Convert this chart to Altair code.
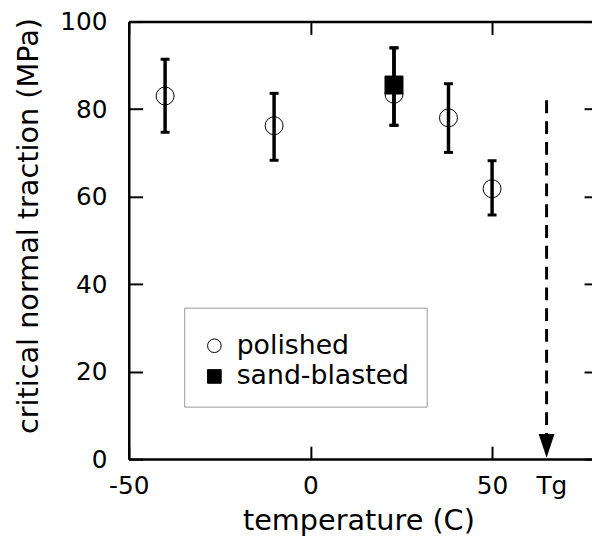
import altair as alt
import pandas as pd

FONT = "DejaVu Sans"

# ---- data ----
surface_names = ["polished", "sand-blasted"]

pol_temp = [-40, -10, 23, 38, 50]
pol_val = [83.0, 76.2, 83.4, 78.0, 61.8]
pol_low = [74.7, 68.3, 76.3, 70.1, 55.8]
pol_high = [91.4, 83.6, 94.0, 85.8, 68.2]

sand_temp = [23]
sand_val = [85.5]
sand_low = [76.3]
sand_high = [94.0]

x_ticks = [-50, 0, 50]
y_ticks = [0, 20, 40, 60, 80, 100]
x_domain = [-50, 77.5]
y_domain = [0, 100]

tg_temp = 65
tg_label_pos = 66.3
arrow_top = 82
arrow_bottom = 5
arrow_head = 3

W, H = 468, 442

df = pd.DataFrame({
    "surface": [surface_names[0]] * len(pol_temp) + [surface_names[1]] * len(sand_temp),
    "temp": pol_temp + sand_temp,
    "val": pol_val + sand_val,
    "low": pol_low + sand_low,
    "high": pol_high + sand_high,
})
df_arrow = pd.DataFrame({"temp": [tg_temp], "top": [arrow_top],
                         "bottom": [arrow_bottom], "head": [arrow_head]})

xs = alt.Scale(domain=x_domain, nice=False, zero=False)
ys = alt.Scale(domain=y_domain, nice=False, zero=False)

common = dict(grid=False, labelColor="black", tickColor="black", domainColor="black",
              labelFont=FONT, titleFont=FONT, titleColor="black", titleFontWeight="normal")

# main axes with labels and titles
axA_x = alt.Axis(values=x_ticks + [tg_label_pos],
                 labelExpr="datum.value > 60 ? 'Tg' : '' + datum.value",
                 ticks=False, tickSize=0, domain=True, domainWidth=2.5,
                 labelFontSize=25, labelPadding=15, labelFlush=False, labelOverlap=False,
                 labelBaseline="top",
                 title="temperature (C)", titleFontSize=29,
                 titleX=232, titleY=71, titleBaseline="alphabetic", titleAnchor="middle",
                 **common)
axA_y = alt.Axis(values=y_ticks, ticks=False, tickSize=0, domain=True, domainWidth=2.5,
                 labelFontSize=25, labelPadding=22, labelFlush=False, labelOverlap=False,
                 title="critical normal traction (MPa)", titleFontSize=29,
                 titleX=-101, titleY=206, titleBaseline="middle", titleAngle=270,
                 **common)
# inward ticks on the left edge
axB_y = alt.Axis(orient="right", offset=-W, values=y_ticks, labels=False, domain=False,
                 tickSize=14, tickWidth=2, title=None, **common)
# inward ticks on the right edge
axC_y = alt.Axis(orient="left", offset=-W, values=y_ticks, labels=False, domain=False,
                 tickSize=8, tickWidth=2, title=None, **common)
# inward ticks on the bottom edge
axD_x = alt.Axis(orient="top", offset=-H, values=x_ticks, labels=False, domain=False,
                 tickSize=13, tickWidth=2, title=None, **common)
# top frame with inward ticks
axE_x = alt.Axis(orient="bottom", offset=-H, values=x_ticks, labels=False, domain=True,
                 domainWidth=2.5, tickSize=13, tickWidth=2, title=None, **common)

leg = alt.Legend(title=" ", titleFontSize=5, titlePadding=3,
                 orient="none", legendX=56, legendY=289, padding=17,
                 strokeColor="#999999", labelFontSize=27, labelFont=FONT, labelColor="black",
                 labelLimit=400,
                 symbolSize=190, symbolStrokeColor="black", symbolStrokeWidth=1,
                 labelOffset=9, rowPadding=3)

base = alt.Chart(df)

points = base.mark_point(filled=True, strokeWidth=1, opacity=1, size=330).encode(
    x=alt.X("temp:Q", scale=xs, axis=axA_x),
    y=alt.Y("val:Q", scale=ys, axis=axA_y),
    shape=alt.Shape("surface:N", scale=alt.Scale(domain=surface_names, range=["circle", "square"]), legend=leg),
    fill=alt.Fill("surface:N", scale=alt.Scale(domain=surface_names, range=["transparent", "black"]), legend=leg),
    stroke=alt.Stroke("surface:N", scale=alt.Scale(domain=surface_names, range=["black", "black"]), legend=leg),
)

bars = base.mark_rule(color="black", strokeWidth=3.5).encode(
    x=alt.X("temp:Q", scale=xs, axis=axD_x),
    y=alt.Y("low:Q", scale=ys, axis=axB_y),
    y2="high:Q",
)

caps_low = base.mark_tick(orient="horizontal", size=9, thickness=3, color="black", opacity=1).encode(
    x=alt.X("temp:Q", scale=xs, axis=axE_x),
    y=alt.Y("low:Q", scale=ys, axis=axC_y),
)
caps_high = base.mark_tick(orient="horizontal", size=9, thickness=3, color="black", opacity=1).encode(
    x=alt.X("temp:Q", scale=xs, axis=None),
    y=alt.Y("high:Q", scale=ys, axis=None),
)

arrow_line = alt.Chart(df_arrow).mark_rule(color="black", strokeWidth=3, strokeDash=[13, 8]).encode(
    x=alt.X("temp:Q", scale=xs, axis=None),
    y=alt.Y("top:Q", scale=ys, axis=None),
    y2="bottom:Q",
)
arrow_head_mark = alt.Chart(df_arrow).mark_point(
    shape="M-0.667,-1L0.667,-1L0,1Z", size=576, filled=True, color="black", opacity=1
).encode(
    x=alt.X("temp:Q", scale=xs, axis=None),
    y=alt.Y("head:Q", scale=ys, axis=None),
)

chart = alt.layer(points, bars, caps_low, caps_high, arrow_line, arrow_head_mark).resolve_axis(
    x="independent", y="independent"
).properties(
    width=W, height=H,
    autosize=alt.AutoSizeParams(type="none"),
    padding={"left": 122, "top": 11, "right": 0, "bottom": 80},
    background="white",
).configure_view(strokeWidth=0)

chart.save("out.html", embed_options={"renderer": "svg", "actions": False})
